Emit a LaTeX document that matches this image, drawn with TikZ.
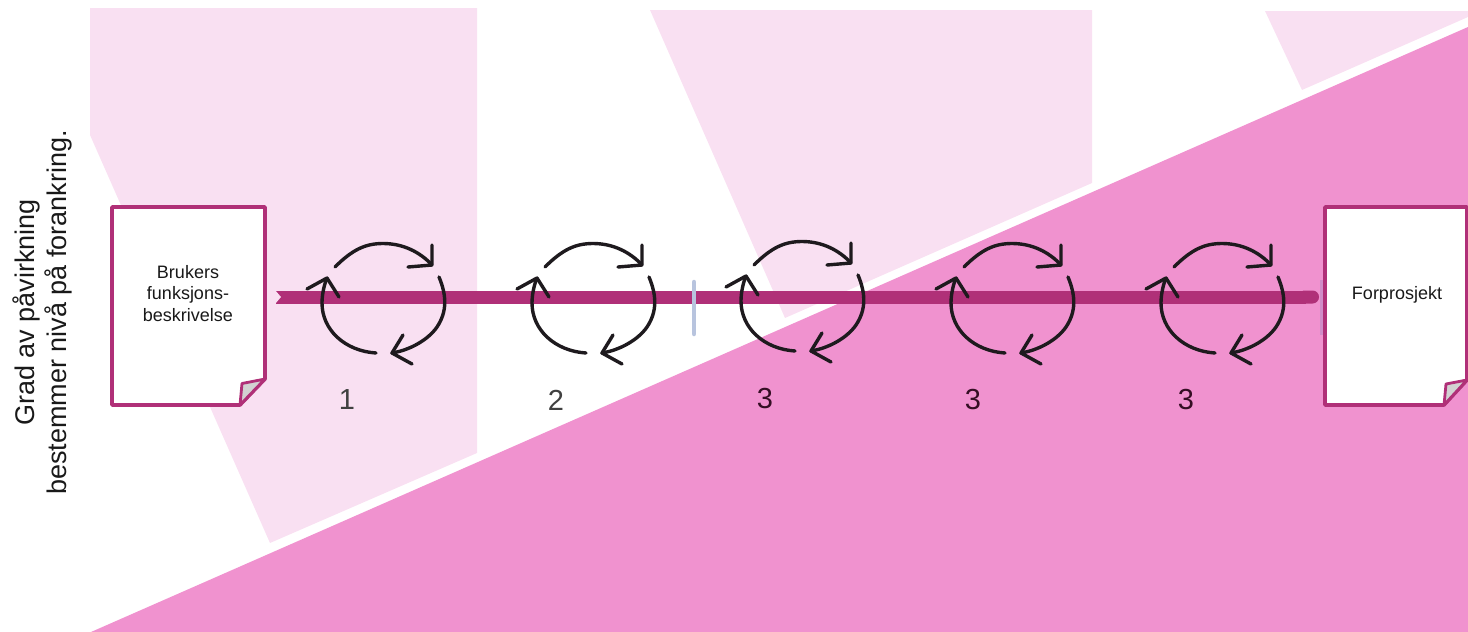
\documentclass[tikz,border=0pt]{standalone}
\usepackage{fontspec}
\setmainfont{Liberation Sans}
\usetikzlibrary{arrows.meta}
\definecolor{lightpink}{HTML}{F9E0F2}
\definecolor{bigpink}{HTML}{F092CF}
\definecolor{barcol}{HTML}{B03078}
\definecolor{markcol}{HTML}{B8C4DE}
\definecolor{faintmark}{HTML}{D08CC8}
\definecolor{flap}{HTML}{D2D2D2}
\definecolor{cyc}{HTML}{1E1A1E}
\tikzset{
  x=1pt,y=-1pt,
  lightarea/.style={fill=lightpink,draw=none},
  bigarea/.style={fill=bigpink,draw=none},
  barline/.style={draw=barcol,line width=13pt},
  tickmark/.style={draw=markcol,line width=4.5pt,line cap=round},
  faintline/.style={draw=faintmark,line width=4pt},
  docpaper/.style={fill=white,draw=barcol,line width=3.6pt,line join=round},
  docflap/.style={fill=flap,draw=barcol,line width=2.8pt,line join=round},
  doctext/.style={inner sep=0pt,align=center,font=\fontsize{18}{21.5}\selectfont,text=black!90},
  sidetext/.style={inner sep=0pt,align=center,rotate=90,font=\fontsize{27}{32}\selectfont,text=black!90},
  numtext/.style={inner sep=0pt,font=\fontsize{29}{29}\selectfont,text=#1},
  numtext/.default={black!75},
  cycline/.style={draw=cyc,line width=3.4pt,line cap=round,line join=round},
  cyclepic/.pic={
    \draw[cycline] (-48,-31) .. controls (-31,-48) and (-18,-54.5) .. (0,-54.5) .. controls (20,-54.5) and (37,-46) .. (49,-33);
    \draw[cycline] (25,-31) -- (49,-33) -- (49,-53);
    \draw[cycline] (56,-21) .. controls (64,-2) and (64,14) .. (54,29) .. controls (45,42) and (27,52) .. (9,55);
    \draw[cycline] (20,37) -- (9,55) -- (29,66);
    \draw[cycline] (-7,55) .. controls (-38,53) and (-61,32) .. (-61,5) .. controls (-61,-3) and (-59,-13) .. (-56,-20);
    \draw[cycline] (-76,-9) -- (-56,-20) -- (-44,-1);
  }
}
\begin{document}
\begin{tikzpicture}
\useasboundingbox (0,0) rectangle (1468,632);
\clip (0,0) rectangle (1468,632);
% background areas
\fill[lightarea] (90,8) -- (477,8) -- (477,453) -- (270,543) -- (90,135) -- cycle;
\fill[lightarea] (650,10) -- (1092,10) -- (1092,183) -- (785,318) -- cycle;
\fill[lightarea] (1265,11) -- (1468,11) -- (1468,17) -- (1302,90) -- cycle;
\fill[bigarea] (91,632) -- (1468,27) -- (1468,632) -- cycle;
% documents
\draw[docpaper] (112,207) -- (265,207) -- (265,379) -- (240,405) -- (112,405) -- cycle;
\draw[docflap] (240,405) -- (242,383.5) -- (265,379) -- cycle;
\coordinate (faintTop) at (1322,280);
\coordinate (faintBot) at (1322,335);
\draw[faintline] (faintTop) -- (faintBot);
\draw[docpaper] (1325,207) -- (1467,207) -- (1467,380) -- (1444,405) -- (1325,405) -- cycle;
\draw[docflap] (1444,405) -- (1446,384) -- (1467,380) -- cycle;
\node[doctext] (docA) at (188,293.5) {Brukers\\funksjons-\\beskrivelse};
\node[doctext] (docB) at (1397,295) {Forprosjekt};
% timeline
\coordinate (barL) at (276,297);
\coordinate (barR) at (1319,297);
\draw[barline,-{Round Cap[]}] (barL) -- (barR);
\fill[lightarea] (barL) ++(-1,-7) -- ++(6,7) -- ++(-6,7) -- cycle;
\coordinate (tickAtop) at (694,282);
\coordinate (tickAbot) at (694,334);
\draw[tickmark] (tickAtop) -- (tickAbot);
% cycles
\pic at (383,298) {cyclepic};
\pic at (593,298) {cyclepic};
\pic at (802,296) {cyclepic};
\pic at (1012,298) {cyclepic};
\pic at (1222,298) {cyclepic};
% numbers
\node[numtext] (n1) at (347,400) {1};
\node[numtext] (n2) at (556,400) {2};
\node[numtext={black!70!barcol}] (n3) at (765,399) {3};
\node[numtext={black!70!barcol}] (n4) at (973,400) {3};
\node[numtext={black!70!barcol}] (n5) at (1186,400) {3};
% side label
\node[sidetext] (side) at (42,312.5) {Grad av påvirkning\\bestemmer nivå på forankring.};
\end{tikzpicture}
\end{document}
